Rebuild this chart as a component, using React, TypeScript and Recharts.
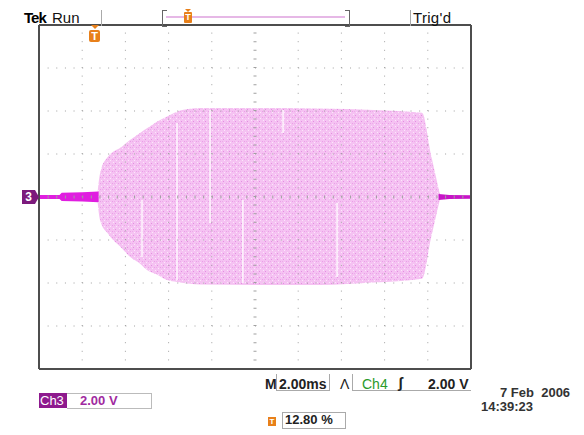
import React from 'react'
import { ComposedChart, Area, XAxis, YAxis, ReferenceLine } from 'recharts'

// time in ms (2 ms/div), amplitude in V (2 V/div)
const leftTraceTime = [0, 0.95, 1.05, 2.0, 2.76]
const leftTraceTop = [0.09, 0.09, 0.2, 0.22, 0.26]
const leftTraceBottom = [-0.09, -0.09, -0.19, -0.21, -0.24]

const envTime = [2.72, 2.8, 2.87, 3.19, 3.43, 3.75, 4.21, 4.68, 5.0, 5.46, 5.93, 6.39, 6.99, 7.45, 10.0, 13.0, 15.5, 17.73, 18.15, 18.56]
const envTop = [0.3, 0.95, 1.26, 1.87, 2.1, 2.28, 2.65, 2.98, 3.2, 3.5, 3.75, 3.97, 4.1, 4.14, 4.14, 4.12, 4.05, 3.92, 1.95, 0.12]
const envBottom = [-0.3, -0.95, -1.21, -1.7, -2.0, -2.3, -2.78, -3.1, -3.39, -3.6, -3.86, -3.95, -4.03, -4.07, -4.09, -4.09, -3.98, -3.8, -1.9, -0.12]

const rightTraceTime = [18.5, 19.0, 20.0]
const rightTraceTop = [0.14, 0.09, 0.08]
const rightTraceBottom = [-0.14, -0.09, -0.08]

// white streaks in the envelope: time, low, high
const gapTime = [4.77, 6.39, 7.92, 9.44, 11.3, 13.8]
const gapLow = [-2.79, -3.86, -1.21, -4.0, 2.98, -3.72]
const gapHigh = [-0.14, 3.44, 4.05, -0.14, 4.05, -0.28]

const xGrid = [2, 4, 6, 8, 12, 14, 16, 18]
const yGrid = [-6, -4, -2, 2, 4, 6]
const xMinor = Array.from({ length: 51 }, (_, i) => i * 0.4)
const yMinor = Array.from({ length: 41 }, (_, i) => -8 + i * 0.4)

type Row = { t: number; lt?: number[]; env?: number[]; rt?: number[] }
const rows: Row[] = []
leftTraceTime.forEach((t, i) => rows.push({ t, lt: [leftTraceBottom[i], leftTraceTop[i]] }))
envTime.forEach((t, i) => rows.push({ t, env: [envBottom[i], envTop[i]] }))
rightTraceTime.forEach((t, i) => rows.push({ t, rt: [rightTraceBottom[i], rightTraceTop[i]] }))
rows.sort((a, b) => a.t - b.t)

const border = '#4d4d4d'
const dot = '#a0a0a0'

const txt = (left: number, top: number, s: string, style: React.CSSProperties = {}) => (
  <div style={{ position: 'absolute', left, top, fontSize: 14, lineHeight: '14px', fontWeight: 'bold', whiteSpace: 'pre', ...style }}>{s}</div>
)

function TMarker({ left, top }: { left: number; top: number }) {
  return (
    <div style={{ position: 'absolute', left, top }}>
      <div style={{ width: 0, height: 0, marginLeft: 2, borderLeft: '4px solid transparent', borderRight: '4px solid transparent', borderTop: '4px solid #e8801a' }} />
      <div style={{ width: 11, height: 12, marginTop: 1, background: '#e8801a', borderRadius: 2, color: '#fff', fontSize: 11, lineHeight: '12px', fontWeight: 'bold', textAlign: 'center' }}>T</div>
    </div>
  )
}

export default function App() {
  return (
    <div style={{ position: 'absolute', left: 0, top: 0, width: 584, height: 435, background: '#fff', fontFamily: '"Liberation Sans", Arial, sans-serif', color: '#222' }}>
      <ComposedChart width={584} height={435} data={rows} margin={{ top: 25, right: 113, bottom: 66, left: 39 }}>
        <defs>
          <pattern id="noise" width="6" height="6" patternUnits="userSpaceOnUse">
            <rect width="6" height="6" fill="#f5c2f2" />
            <rect x="1" y="1" width="1" height="1" fill="#e48fe1" />
            <rect x="4" y="3" width="1" height="1" fill="#ea9fe7" />
            <rect x="2" y="4" width="1" height="1" fill="#fce6fb" />
            <rect x="5" y="0" width="1" height="1" fill="#fce6fb" />
            <rect x="0" y="3" width="1" height="1" fill="#eeaaeb" />
          </pattern>
        </defs>
        <XAxis xAxisId="b" type="number" dataKey="t" domain={[0, 20]} ticks={xMinor} orientation="bottom" mirror tick={false} tickSize={3} axisLine={{ stroke: border, strokeWidth: 2 }} tickLine={{ stroke: border }} allowDataOverflow />
        <XAxis xAxisId="t" type="number" dataKey="t" domain={[0, 20]} ticks={xMinor} orientation="top" mirror tick={false} tickSize={3} axisLine={{ stroke: border, strokeWidth: 2 }} tickLine={{ stroke: border }} allowDataOverflow />
        <YAxis yAxisId="l" type="number" domain={[-8, 8]} ticks={yMinor} orientation="left" mirror tick={false} tickSize={3} axisLine={{ stroke: border, strokeWidth: 2 }} tickLine={{ stroke: border }} allowDataOverflow />
        <YAxis yAxisId="r" type="number" domain={[-8, 8]} ticks={yMinor} orientation="right" mirror tick={false} tickSize={3} axisLine={{ stroke: border, strokeWidth: 2 }} tickLine={{ stroke: border }} allowDataOverflow />

        <Area xAxisId="b" yAxisId="l" dataKey="env" type="monotone" connectNulls stroke="none" fill="url(#noise)" fillOpacity={1} isAnimationActive={false} dot={false} activeDot={false} />
        <Area xAxisId="b" yAxisId="l" dataKey="lt" type="linear" connectNulls stroke="none" fill="#e01ee0" fillOpacity={1} isAnimationActive={false} dot={false} activeDot={false} />
        <Area xAxisId="b" yAxisId="l" dataKey="rt" type="linear" connectNulls stroke="none" fill="#c814c8" fillOpacity={1} isAnimationActive={false} dot={false} activeDot={false} />

        {gapTime.map((t, i) => (
          <ReferenceLine key={'g' + i} xAxisId="b" yAxisId="l" segment={[{ x: t, y: gapLow[i] }, { x: t, y: gapHigh[i] }]} stroke="#fff" strokeOpacity={0.85} strokeWidth={1.5} />
        ))}
        {xGrid.map((x) => (
          <ReferenceLine key={'x' + x} xAxisId="b" yAxisId="l" x={x} stroke={dot} strokeWidth={1} strokeDasharray="1 7.6" />
        ))}
        {yGrid.map((y) => (
          <ReferenceLine key={'y' + y} xAxisId="b" yAxisId="l" y={y} stroke={dot} strokeWidth={1} strokeDasharray="1 7.64" />
        ))}
        <ReferenceLine xAxisId="b" yAxisId="l" x={10} stroke={dot} strokeWidth={3} strokeDasharray="1 7.6" />
        <ReferenceLine xAxisId="b" yAxisId="l" y={0} stroke={dot} strokeWidth={3} strokeDasharray="1 7.64" />
      </ComposedChart>

      {/* header */}
      {txt(24, 10, 'Tek', { fontSize: 15, lineHeight: '15px', color: '#000', letterSpacing: -1 })}
      {txt(52, 10, 'Run', { fontSize: 15, lineHeight: '15px', fontWeight: 'normal', color: '#111' })}
      <div style={{ position: 'absolute', left: 101, top: 10, width: 1, height: 16, background: '#aaa' }} />
      <div style={{ position: 'absolute', left: 410, top: 10, width: 1, height: 16, background: '#aaa' }} />
      <div style={{ position: 'absolute', left: 162, top: 10, width: 4, height: 15, borderLeft: '1px solid #666', borderTop: '1px solid #666', borderBottom: '1px solid #666' }} />
      <div style={{ position: 'absolute', left: 345, top: 10, width: 4, height: 15, borderRight: '1px solid #666', borderTop: '1px solid #666', borderBottom: '1px solid #666' }} />
      <div style={{ position: 'absolute', left: 166, top: 16, width: 179, height: 2, background: '#e6b8e6' }} />
      <div style={{ position: 'absolute', left: 184, top: 9 }}>
        <div style={{ width: 0, height: 0, marginLeft: 1, borderLeft: '3px solid transparent', borderRight: '3px solid transparent', borderTop: '3px solid #e8801a' }} />
        <div style={{ width: 8, height: 11, background: '#e8801a', borderRadius: 1, color: '#fff', fontSize: 9, lineHeight: '11px', fontWeight: 'bold', textAlign: 'center' }}>T</div>
      </div>
      {txt(413, 10, "Trig'd", { fontSize: 15, lineHeight: '15px', fontWeight: 'normal', color: '#111', letterSpacing: 0.3 })}

      {/* plot markers */}
      <TMarker left={89} top={25} />
      <div style={{ position: 'absolute', left: 22, top: 190, width: 13, height: 14, background: '#7c1a7c', color: '#fff', fontSize: 12, lineHeight: '14px', fontWeight: 'bold', textAlign: 'center' }}>3</div>
      <div style={{ position: 'absolute', left: 35, top: 190, width: 0, height: 0, borderTop: '7px solid transparent', borderBottom: '7px solid transparent', borderLeft: '4px solid #7c1a7c' }} />

      {/* footer */}
      {txt(265, 377, 'M', { color: '#222' })}
      <div style={{ position: 'absolute', left: 276, top: 374, width: 52, height: 16, border: '1px solid #aaa', borderTop: 'none' }} />
      {txt(279, 377, '2.00ms', { color: '#222' })}
      {txt(340, 377, 'Λ', { color: '#222', fontWeight: 'normal' })}
      <div style={{ position: 'absolute', left: 352, top: 374, width: 118, height: 16, border: '1px solid #aaa', borderTop: 'none', borderRight: 'none' }} />
      {txt(362, 377, 'Ch4', { color: '#2a9a2a', fontWeight: 'normal' })}
      {txt(398, 376, 'ʃ', { color: '#222', fontSize: 15 })}
      {txt(428, 377, '2.00 V', { color: '#222' })}

      <div style={{ position: 'absolute', left: 39, top: 393, width: 28, height: 15, background: '#8e1a8e' }} />
      {txt(40, 394, 'Ch3', { color: '#fff', fontSize: 13, lineHeight: '13px', fontWeight: 'normal' })}
      <div style={{ position: 'absolute', left: 67, top: 393, width: 84, height: 14, border: '1px solid #bbb', borderLeft: 'none' }} />
      {txt(80, 394, '2.00 V', { color: '#a02aa0', fontSize: 13, lineHeight: '13px' })}

      <div style={{ position: 'absolute', left: 268, top: 417, width: 8, height: 9, background: '#e8801a', color: '#fff', fontSize: 8, lineHeight: '9px', fontWeight: 'bold', textAlign: 'center' }}>T</div>
      <div style={{ position: 'absolute', left: 282, top: 412, width: 62, height: 15, border: '1px solid #aaa' }} />
      {txt(285, 413, '12.80 %', { color: '#222', fontSize: 13, lineHeight: '13px' })}

      {txt(500, 386, '7 Feb  2006', { color: '#333', fontSize: 13, lineHeight: '13px' })}
      {txt(481, 400, '14:39:23', { color: '#333', fontSize: 13, lineHeight: '13px' })}
    </div>
  )
}
